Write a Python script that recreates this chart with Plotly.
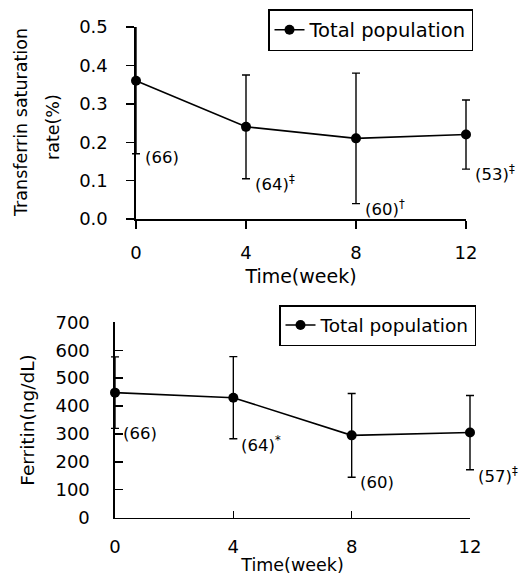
import plotly.graph_objects as go

weeks = [0, 4, 8, 12]
tick_labels = ["0", "4", "8", "12"]

# Transferrin saturation rate
tsat_mean = [0.36, 0.24, 0.21, 0.22]
tsat_sd = [0.19, 0.135, 0.17, 0.09]
tsat_labels = ["(66)", "(64)<sup>‡</sup>", "(60)<sup>†</sup>", "(53)<sup>‡</sup>"]
tsat_ticks = [0, 0.1, 0.2, 0.3, 0.4, 0.5]

# Ferritin
ferr_mean = [448, 430, 295, 305]
ferr_sd = [128, 147, 150, 133]
ferr_labels = ["(66)", "(64)<sup>*</sup>", "(60)", "(57)<sup>‡</sup>"]
ferr_ticks = [0, 100, 200, 300, 400, 500, 600, 700]

FONT = "DejaVu Sans, Verdana, sans-serif"
W, H = 523, 576

# plot-area pixel boxes (left, right, top, bottom)
TOP = (136, 466, 27, 219)
BOT = (115, 470, 322.3, 517.7)
PAD = 12  # px of horizontal room so end-point error caps are not clipped


def xdom(box):
    return [box[0] / W, box[1] / W]


def ydom(box):
    return [1 - box[3] / H, 1 - box[2] / H]


def padded(box, x0, x1):
    scale = (box[1] - box[0]) / (x1 - x0)
    dom = [(box[0] - PAD) / W, (box[1] + PAD) / W]
    rng = [x0 - PAD / scale, x1 + PAD / scale]
    return dom, rng


fig = go.Figure()

# empty traces so the visible axes are drawn
fig.add_trace(go.Scatter(x=[], y=[], xaxis="x", yaxis="y", showlegend=False))
fig.add_trace(go.Scatter(x=[], y=[], xaxis="x2", yaxis="y2", showlegend=False))

fig.add_trace(go.Scatter(
    x=weeks, y=tsat_mean, mode="lines+markers", name="Total population",
    line=dict(color="black", width=1.6),
    marker=dict(color="black", size=10),
    error_y=dict(type="data", array=tsat_sd, color="black", thickness=1.4, width=4),
    xaxis="x3", yaxis="y3", legend="legend", cliponaxis=False,
))
fig.add_trace(go.Scatter(
    x=weeks, y=ferr_mean, mode="lines+markers", name="Total population",
    line=dict(color="black", width=1.6),
    marker=dict(color="black", size=10),
    error_y=dict(type="data", array=ferr_sd, color="black", thickness=1.4, width=4),
    xaxis="x4", yaxis="y4", legend="legend2", cliponaxis=False,
))

ann = []
for x, m, s, t in zip(weeks, tsat_mean, tsat_sd, tsat_labels):
    ann.append(dict(x=x, y=m - s, xref="x", yref="y", text=t, showarrow=False,
                    xanchor="left", yanchor="middle", xshift=7, yshift=-4,
                    font=dict(size=16.5, color="black", family=FONT)))
for x, m, s, t in zip(weeks, ferr_mean, ferr_sd, ferr_labels):
    ann.append(dict(x=x, y=m - s, xref="x2", yref="y2", text=t, showarrow=False,
                    xanchor="left", yanchor="middle", xshift=6, yshift=-5,
                    font=dict(size=16.5, color="black", family=FONT)))
# two-line y title of the upper chart
ann.append(dict(x=21 / W, y=1 - 123 / H, xref="paper", yref="paper",
                text="Transferrin saturation", textangle=-90, showarrow=False,
                xanchor="center", yanchor="middle",
                font=dict(size=17.5, color="black", family=FONT)))
ann.append(dict(x=53 / W, y=1 - 127 / H, xref="paper", yref="paper",
                text="rate(%)", textangle=-90, showarrow=False,
                xanchor="center", yanchor="middle",
                font=dict(size=17.5, color="black", family=FONT)))

axis_common = dict(showline=True, linecolor="black", linewidth=1.6, showgrid=False,
                   zeroline=False, tickcolor="black", tickwidth=1.4,
                   automargin=False, fixedrange=True,
                   tickfont=dict(size=18, color="black", family=FONT))
hidden = dict(visible=False, showgrid=False, zeroline=False, automargin=False,
              fixedrange=True)

x3dom, x3rng = padded(TOP, 0, 12)
x4dom, x4rng = padded(BOT, 0, 12)

fig.update_layout(
    template="none",
    width=W, height=H,
    margin=dict(l=0, r=0, t=0, b=0, autoexpand=False),
    paper_bgcolor="white", plot_bgcolor="rgba(0,0,0,0)",
    font=dict(family=FONT, color="black", size=17),
    annotations=ann,
    xaxis=dict(axis_common, domain=xdom(TOP), range=[0, 12],
               tickvals=weeks, ticktext=tick_labels, ticks="outside", ticklen=8,
               anchor="y", ticklabelstandoff=9,
               title=dict(text="Time(week)", standoff=7,
                          font=dict(size=19, family=FONT))),
    yaxis=dict(axis_common, domain=ydom(TOP), range=[0, 0.5],
               tickvals=tsat_ticks, tickformat=".1f",
               ticks="outside", ticklen=8, anchor="x", ticklabelstandoff=15),
    xaxis2=dict(axis_common, domain=xdom(BOT), range=[0, 12],
                tickvals=weeks, ticktext=tick_labels, ticks="inside", ticklen=7,
                anchor="y2", ticklabelstandoff=12,
                title=dict(text="Time(week)", standoff=3,
                           font=dict(size=17.5, family=FONT))),
    yaxis2=dict(axis_common, domain=ydom(BOT), range=[0, 700],
                tickvals=ferr_ticks,
                ticks="inside", ticklen=8, anchor="x2", ticklabelstandoff=20,
                title=dict(text="Ferritin(ng/dL)", standoff=16,
                           font=dict(size=18.5, family=FONT))),
    xaxis3=dict(hidden, domain=x3dom, range=x3rng, anchor="y3"),
    yaxis3=dict(hidden, domain=ydom(TOP), range=[0, 0.5], anchor="x3"),
    xaxis4=dict(hidden, domain=x4dom, range=x4rng, anchor="y4"),
    yaxis4=dict(hidden, domain=ydom(BOT), range=[0, 700], anchor="x4"),
    legend=dict(x=268 / W, y=1 - 9 / H, xanchor="left", yanchor="top",
                bordercolor="black", borderwidth=1.5, bgcolor="white",
                font=dict(size=19.5, color="black", family=FONT),
                itemwidth=30, tracegroupgap=0),
    legend2=dict(x=279 / W, y=1 - 305 / H, xanchor="left", yanchor="top",
                 bordercolor="black", borderwidth=1.5, bgcolor="white",
                 font=dict(size=18.5, color="black", family=FONT),
                 itemwidth=30, tracegroupgap=0),
    showlegend=True,
)

fig.write_html("out.html",
               config=dict(displayModeBar=False, staticPlot=True),
               post_script="document.body.style.margin='0';"
                           "document.body.style.overflow='hidden';")
